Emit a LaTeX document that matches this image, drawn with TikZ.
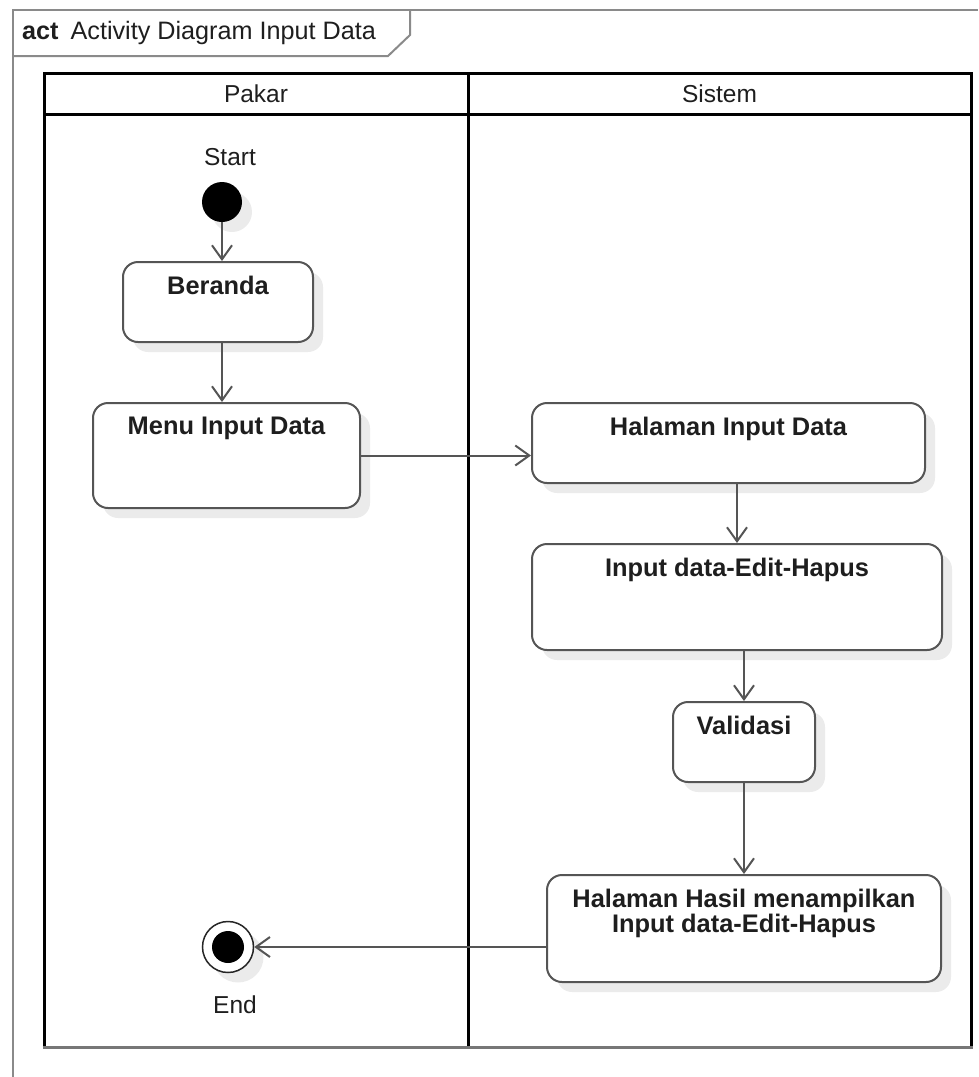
\documentclass[tikz,border=0pt]{standalone}
\usepackage{fontspec}
\setmainfont{Liberation Sans}
\usetikzlibrary{arrows.meta,shadows}

\definecolor{framegray}{HTML}{8A8A8A}
\definecolor{linegray}{HTML}{555555}
\definecolor{shadowgray}{HTML}{EBEBEB}
\definecolor{inkgray}{HTML}{1E1E1E}
\definecolor{lanebottom}{HTML}{777777}

\begin{document}
\begin{tikzpicture}[x=1pt,y=-1pt,
  every node/.style={font=\fontsize{24.5}{25}\selectfont, text=inkgray},
  frameline/.style={draw=framegray, line width=2pt},
  laneline/.style={draw=black, line width=3pt},
  softshadow/.style={drop shadow={shadow xshift=10pt, shadow yshift=-10pt, fill=shadowgray, opacity=1}},
  actbox/.style={draw=linegray, line width=2pt, fill=white, rounded corners=15pt,
    inner sep=0pt, softshadow},
  boxtext/.style={anchor=north, yshift=-15pt, inner sep=0pt, align=center,
    font=\fontsize{25.4}{25}\selectfont\bfseries},
  startdot/.style={circle, fill=black, minimum size=40pt, inner sep=0pt, softshadow},
  enddot/.style={circle, draw=black!85, line width=1.5pt, fill=white, minimum size=51pt,
    inner sep=0pt, softshadow},
  flow/.style={draw=linegray, line width=2pt,
    -{Straight Barb[length=14pt, width=20pt, line width=2pt]}}
]
\useasboundingbox (0,0) rectangle (978,1077);

% diagram frame with its name tab
\draw[frameline] (13,1077) -- (13,10) -- (978,10);
\draw[frameline] (13,56) -- (388,56) -- (410,35) -- (410,10);
\node[anchor=west, inner sep=0pt, font=\fontsize{25.2}{25}\selectfont] (title) at (22,33)
  {\textbf{act}\hspace{12pt}Activity Diagram Input Data};

% swimlanes
\draw[laneline] (44,1047) -- (44,73) -- (971,73) -- (971,1047);
\draw[laneline] (44,114) -- (971,114);
\draw[laneline] (468,73) -- (468,1047);
\draw[draw=lanebottom, line width=3pt] (42.5,1047) -- (972.5,1047);
\node (pakar) at (256,93.5) {Pakar};
\node (sistem) at (719.5,93.5) {Sistem};

% start and end
\node[startdot] (start) at (222,202) {};
\node[anchor=base, inner sep=0pt] (startlabel) at (230,165) {Start};
\node[enddot] (end) at (228,947) {};
\fill[black] (end.center) circle[radius=16pt];
\node[anchor=base, inner sep=0pt] (endlabel) at (235,1013) {End};

% actions
\node[actbox, minimum width=190pt, minimum height=80pt] (beranda) at (218,302) {};
\node[boxtext] (beranda-t) at (beranda.north) {Beranda};

\node[actbox, minimum width=267pt, minimum height=105pt] (menu) at (226.5,455.5) {};
\node[boxtext] (menu-t) at (menu.north) {Menu Input Data};

\node[actbox, minimum width=393pt, minimum height=80pt] (halinput) at (728.5,443) {};
\node[boxtext] (halinput-t) at (halinput.north) {Halaman Input Data};

\node[actbox, minimum width=410pt, minimum height=106pt] (ideh) at (737,597) {};
\node[boxtext] (ideh-t) at (ideh.north) {Input data-Edit-Hapus};

\node[actbox, minimum width=142pt, minimum height=80pt] (valid) at (744,742) {};
\node[boxtext] (valid-t) at (valid.north) {Validasi};

\node[actbox, minimum width=394pt, minimum height=107pt] (hasil) at (744,928.5) {};
\node[boxtext] (hasil-t) at (hasil.north) {Halaman Hasil menampilkan\\Input data-Edit-Hapus};

% control flow
\draw[flow] (start) -- (start |- beranda.north);
\draw[flow] (beranda.south -| start) -- (menu.north -| start);
\draw[flow] (menu.east) -- (menu.east -| halinput.west);
\draw[flow] (halinput.south -| ideh.north) -- (ideh.north);
\draw[flow] (ideh.south -| valid.north) -- (valid.north);
\draw[flow] (valid) -- (hasil);
\draw[flow] (hasil.west |- end) -- (end);
\end{tikzpicture}
\end{document}
